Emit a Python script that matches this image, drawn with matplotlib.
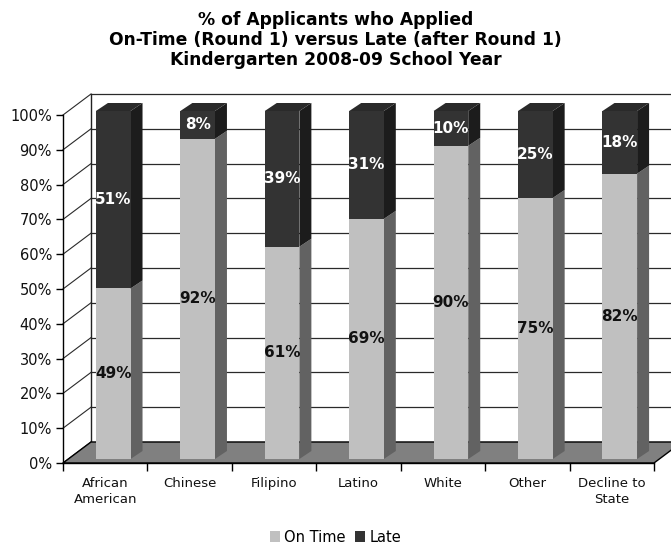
import matplotlib
matplotlib.use("Agg")
import matplotlib.pyplot as plt
from matplotlib.patches import Polygon, Patch
from matplotlib.transforms import IdentityTransform
import numpy as np

categories = ["African\nAmerican", "Chinese", "Filipino", "Latino", "White", "Other", "Decline to\nState"]
on_time = [49, 92, 61, 69, 90, 75, 82]
late = [51, 8, 39, 31, 10, 25, 18]
on_time_labels = ["49%", "92%", "61%", "69%", "90%", "75%", "82%"]
late_labels = ["51%", "8%", "39%", "31%", "10%", "25%", "18%"]
yticks = [0, 10, 20, 30, 40, 50, 60, 70, 80, 90, 100]
ytick_labels = ["0%", "10%", "20%", "30%", "40%", "50%", "60%", "70%", "80%", "90%", "100%"]
title = "% of Applicants who Applied\nOn-Time (Round 1) versus Late (after Round 1)\nKindergarten 2008-09 School Year"

plt.rcParams['font.family'] = ['DejaVu Sans']

W, H = 671, 544
fig = plt.figure(figsize=(W / 100, H / 100), dpi=100)
ax = fig.add_axes([63 / W, (H - 463) / H, 591 / W, 348 / H])
n = len(categories)
ax.set_xlim(-0.5, n - 0.5)
ax.set_ylim(0, 100)
ax.patch.set_visible(False)
for s in ["top", "right"]:
    ax.spines[s].set_visible(False)
for s in ["left", "bottom"]:
    ax.spines[s].set_color("black")
    ax.spines[s].set_linewidth(1.0)
    ax.spines[s].set_zorder(6)

ax.set_yticks(yticks)
ax.set_yticklabels(ytick_labels, fontsize=10.5, color="#111111")
ax.tick_params(axis="y", length=5, direction="out", width=1, pad=3)
ax.set_xticks(np.arange(-0.5, n, 1.0))
ax.set_xticklabels([])
ax.set_xticks(np.arange(n), minor=True)
ax.set_xticklabels(categories, minor=True, fontsize=9.5, color="#111111", linespacing=1.35)
ax.tick_params(axis="x", which="major", length=6, direction="out", width=1)
ax.tick_params(axis="x", which="minor", length=0, pad=10)

fig.canvas.draw()
T = ax.transData
ident = IdentityTransform()

def d(x, y):
    return T.transform((x, y))

DX, DY = 28, 21  # depth of wall/floor in pixels
x0, x1 = -0.5, n - 0.5

# back wall gridlines and left wall diagonals
for v in yticks:
    fx, fy = d(x0, v)
    rx, _ = d(x1, v)
    ax.add_line(plt.Line2D([fx + DX, rx + DX], [fy + DY, fy + DY], transform=ident,
                           color="#2a2a2a", lw=0.9, clip_on=False, zorder=1))
    ax.add_line(plt.Line2D([fx, fx + DX], [fy, fy + DY], transform=ident,
                           color="#2a2a2a", lw=0.8, clip_on=False, zorder=1))
# back wall left edge
bx, by0 = d(x0, 0)
_, by1 = d(x0, 100)
ax.add_line(plt.Line2D([bx + DX, bx + DX], [by0 + DY, by1 + DY], transform=ident,
                       color="#222222", lw=1.0, clip_on=False, zorder=1))

# floor
p0 = d(x0, 0)
p1 = d(x1, 0)
floor = [p0, p1, (p1[0] + DX, p1[1] + DY), (p0[0] + DX, p0[1] + DY)]
ax.add_patch(Polygon(floor, closed=True, transform=ident, facecolor="#808080",
                     edgecolor="black", lw=1.0, clip_on=False, zorder=2))

# bars
FX, FY = 8, 4   # offset of bar front face
BX, BY = 12, 8  # bar depth
half_w = 0.205

def box(xc, y0, y1, front, side, top=None):
    a = d(xc - half_w, y0)
    b = d(xc + half_w, y1)
    l, r = a[0] + FX, b[0] + FX
    lo, hi = a[1] + FY, b[1] + FY
    fr = [(l, lo), (r, lo), (r, hi), (l, hi)]
    sd = [(r, lo), (r + BX, lo + BY), (r + BX, hi + BY), (r, hi)]
    ax.add_patch(Polygon(sd, closed=True, transform=ident, facecolor=side,
                         edgecolor="none", clip_on=False, zorder=3))
    ax.add_patch(Polygon(fr, closed=True, transform=ident, facecolor=front,
                         edgecolor="none", clip_on=False, zorder=3))
    if top is not None:
        tp = [(l, hi), (r, hi), (r + BX, hi + BY), (l + BX, hi + BY)]
        ax.add_patch(Polygon(tp, closed=True, transform=ident, facecolor=top,
                             edgecolor="none", clip_on=False, zorder=3))
    return (l + r) / 2, (lo + hi) / 2

for i in range(n):
    cx, cy = box(i, 0, on_time[i], "#c0c0c0", "#626262")
    ax.text(cx, cy, on_time_labels[i], transform=ident, ha="center", va="center",
            fontsize=11, fontweight="bold", color="#111111", zorder=5)
    cx, cy = box(i, on_time[i], on_time[i] + late[i], "#333333", "#1c1c1c", top="#2a2a2a")
    ax.text(cx, cy, late_labels[i], transform=ident, ha="center", va="center",
            fontsize=11, fontweight="bold", color="white", zorder=5)

fig.text(0.5, 1 - 40 / H, title, ha="center", va="center", fontsize=12.3,
         fontweight="bold", linespacing=1.12)

handles = [Patch(facecolor="#c0c0c0", edgecolor="none"), Patch(facecolor="#333333", edgecolor="none")]
fig.legend(handles, ["On Time", "Late"], loc="center", bbox_to_anchor=(0.5, 1 - 537 / H),
           ncol=2, frameon=False, fontsize=10.5, handlelength=0.7, handleheight=0.7,
           handletextpad=0.3, columnspacing=0.6, borderaxespad=0)

fig.savefig("out.png", dpi=100)
